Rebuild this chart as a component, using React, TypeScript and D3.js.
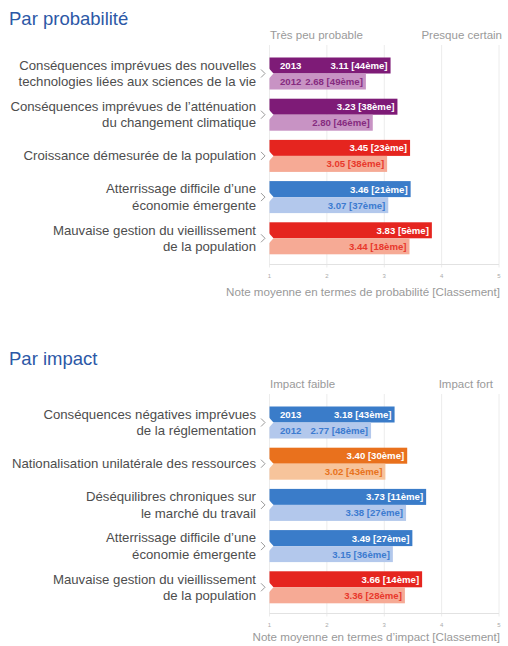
import React from 'react';
import * as d3 from 'd3';

// Data
const years = ['2013', '2012'];
const ticks = [1, 2, 3, 4, 5];

const probLabels = [
  ['Conséquences imprévues des nouvelles', 'technologies liées aux sciences de la vie'],
  ['Conséquences imprévues de l’atténuation', 'du changement climatique'],
  ['Croissance démesurée de la population'],
  ['Atterrissage difficile d’une', 'économie émergente'],
  ['Mauvaise gestion du vieillissement', 'de la population'],
];
const prob2013 = [3.11, 3.23, 3.45, 3.46, 3.83];
const prob2012 = [2.68, 2.8, 3.05, 3.07, 3.44];
const probRank2013 = [44, 38, 23, 21, 5];
const probRank2012 = [49, 46, 38, 37, 18];
const probThemes = ['purple', 'purple', 'red', 'blue', 'red'];

const impactLabels = [
  ['Conséquences négatives imprévues', 'de la réglementation'],
  ['Nationalisation unilatérale des ressources'],
  ['Déséquilibres chroniques sur', 'le marché du travail'],
  ['Atterrissage difficile d’une', 'économie émergente'],
  ['Mauvaise gestion du vieillissement', 'de la population'],
];
const impact2013 = [3.18, 3.4, 3.73, 3.49, 3.66];
const impact2012 = [2.77, 3.02, 3.38, 3.15, 3.36];
const impactRank2013 = [43, 30, 11, 27, 14];
const impactRank2012 = [48, 43, 27, 36, 28];
const impactThemes = ['blue', 'orange', 'blue', 'blue', 'red'];

const palette: Record<string, { dark: string; light: string; text: string }> = {
  purple: { dark: '#7e1b77', light: '#c893c4', text: '#862b80' },
  red: { dark: '#e5251f', light: '#f6aa95', text: '#e8382c' },
  blue: { dark: '#3a7cc9', light: '#b3c8ec', text: '#3c7bd0' },
  orange: { dark: '#e9711d', light: '#f7c49b', text: '#e8731d' },
};

const FONT = '"Liberation Sans", Arial, Helvetica, sans-serif';

type PanelProps = {
  oy: number;
  titleY: number;
  title: string;
  lowLabel: string;
  highLabel: string;
  highX: number;
  axisTitle: string;
  axisTitleDy: number;
  labels: string[][];
  v2013: number[];
  v2012: number[];
  r2013: number[];
  r2012: number[];
  themes: string[];
};

const Panel = (p: PanelProps) => {
  const x = d3.scaleLinear().domain([1, 5]).range([269.5, 499]);
  const idx = p.labels.map((_, i) => String(i));
  const y = d3.scaleBand().domain(idx).range([p.oy + 57.5, p.oy + 254.3]).paddingInner(0.223);
  const yy = d3.scaleBand().domain(years).range([0, y.bandwidth()]);
  const gridTop = p.oy + 45;
  const axisY = p.oy + 264.5;

  return (
    <g fontFamily={FONT}>
      <text x={9} y={p.titleY} fontSize={18.5} fill="#2c58a6">{p.title}</text>
      <text x={270} y={p.oy + 39} fontSize={11.5} fill="#9a9a9a">{p.lowLabel}</text>
      <text x={p.highX} y={p.oy + 39} fontSize={11.5} fill="#9a9a9a" textAnchor="end">{p.highLabel}</text>

      {ticks.map(t => (
        <line key={'g' + t} x1={x(t)} x2={x(t)} y1={gridTop} y2={axisY + 3} stroke="#ececec" strokeWidth={1} />
      ))}
      <line x1={x(1)} x2={x(5)} y1={axisY} y2={axisY} stroke="#e2e2e2" strokeWidth={1} />
      {ticks.map(t => (
        <text key={'t' + t} x={x(t)} y={axisY + 13} fontSize={6} fill="#aaa" textAnchor="middle">{t}</text>
      ))}
      <text x={500} y={axisY + p.axisTitleDy} fontSize={11.6} fill="#999" textAnchor="end">{p.axisTitle}</text>

      {p.labels.map((lines, i) => {
        const top = y(String(i)) as number;
        const j = top + y.bandwidth() / 2;
        const col = palette[p.themes[i]];
        const vals = [p.v2013[i], p.v2012[i]];
        const ranks = [p.r2013[i], p.r2012[i]];
        return (
          <g key={i}>
            {lines.map((ln, k) => (
              <text
                key={k}
                x={256}
                y={j + (k - (lines.length - 1) / 2) * 16.5 + 4.5}
                fontSize={13.2}
                fill="#4d4d4d"
                textAnchor="end"
              >
                {ln}
              </text>
            ))}
            <path d={`M261,${j - 4}L265,${j}L261,${j + 4}`} fill="none" stroke="#999" strokeWidth={1} />
            {years.map((yr, k) => {
              const by = top + (yy(yr) as number);
              const bh = yy.bandwidth();
              const x1 = x(vals[k]);
              const dark = k === 0;
              const tc = dark ? '#fff' : col.text;
              return (
                <g key={yr}>
                  <rect x={x(1)} y={by} width={x1 - x(1)} height={bh} fill={dark ? col.dark : col.light} />
                  <text x={x1 - 3} y={by + bh / 2 + 3.5} fontSize={9.6} fontWeight="bold" fill={tc} textAnchor="end">
                    {`${vals[k].toFixed(2)} [${ranks[k]}ème]`}
                  </text>
                  {i === 0 && (
                    <text x={280} y={by + bh / 2 + 3.5} fontSize={9.6} fontWeight="bold" fill={tc}>{yr}</text>
                  )}
                </g>
              );
            })}
            <path d={`M${x(1) - 0.5},${j - 5}L${x(1) + 4},${j}L${x(1) - 0.5},${j + 5}Z`} fill="#fff" />
          </g>
        );
      })}
    </g>
  );
};

export default function App() {
  return (
    <div style={{ position: 'absolute', left: 0, top: 0 }}>
      <svg width={508} height={646} style={{ display: 'block', background: '#fff' }}>
        <Panel
          oy={0}
          titleY={25}
          title="Par probabilité"
          lowLabel="Très peu probable"
          highLabel="Presque certain"
          highX={502}
          axisTitle="Note moyenne en termes de probabilité [Classement]"
          axisTitleDy={31}
          labels={probLabels}
          v2013={prob2013}
          v2012={prob2012}
          r2013={probRank2013}
          r2012={probRank2012}
          themes={probThemes}
        />
        <Panel
          oy={349}
          titleY={365}
          title="Par impact"
          lowLabel="Impact faible"
          highLabel="Impact fort"
          highX={493}
          axisTitle="Note moyenne en termes d’impact [Classement]"
          axisTitleDy={27}
          labels={impactLabels}
          v2013={impact2013}
          v2012={impact2012}
          r2013={impactRank2013}
          r2012={impactRank2012}
          themes={impactThemes}
        />
      </svg>
    </div>
  );
}
